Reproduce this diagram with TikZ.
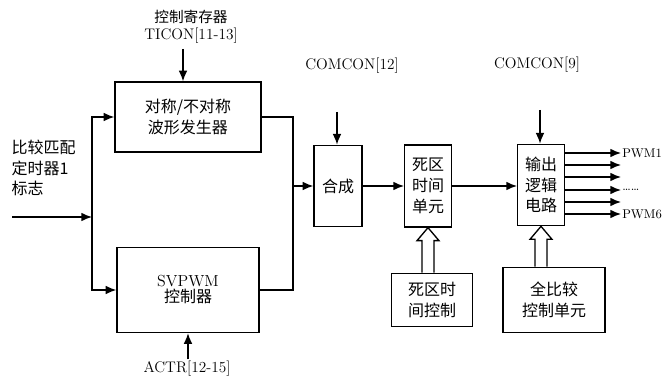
\documentclass[tikz,border=0pt]{standalone}
\usepackage{fontspec}
\newfontfamily\cjk{Noto Sans CJK SC}
\usetikzlibrary{arrows.meta, calc}

% hollow (double line) arrow pointing up from #1 to #2
\newcommand{\fatarrow}[2]{%
  \draw[fill=white] ($(#1)+(-6,0)$) -- ($(#2)+(-6,13)$) -- ($(#2)+(-11,13)$) -- (#2)
    -- ($(#2)+(11,13)$) -- ($(#2)+(6,13)$) -- ($(#1)+(6,0)$);}

\tikzset{
  blk/.style={draw, line width=1pt, align=center, inner sep=1pt},
  cn/.style={font=\cjk\fontsize{12}{15.5}\selectfont},
  lbl/.style={font=\fontsize{11.5}{13}\selectfont, align=center, inner sep=1pt},
  pwm/.style={font=\fontsize{9.5}{11}\selectfont, anchor=west, inner sep=0.5pt},
  arr/.style={line width=1pt, -{Latex[length=8pt,width=6.5pt]}},
  wire/.style={line width=1pt}
}

\begin{document}
\begin{tikzpicture}[x=0.75pt, y=-0.75pt, line width=1pt]

  \useasboundingbox (0,0) rectangle (669,385);

  % Blocks
  \node[blk, cn, minimum width=109.5pt, minimum height=52.5pt] (wave) at (188,117) {对称/不对称\\波形发生器};
  \node[blk, minimum width=106.5pt, minimum height=63.75pt] (svpwm) at (188,290) {\rmfamily\fontsize{12}{15.5}\selectfont SVPWM\\{\cjk\fontsize{12}{15.5}\selectfont 控制器}};
  \node[blk, cn, minimum width=36pt, minimum height=61pt] (synth) at (338,186) {合成};
  \node[blk, cn, minimum width=35pt, minimum height=61.5pt] (dead) at (428,186) {死区\\时间\\单元};
  \node[blk, cn, minimum width=35pt, minimum height=61pt] (outlogic) at (541,185) {输出\\逻辑\\电路};
  \node[blk, cn, minimum width=61pt, minimum height=40pt] (deadctl) at (432,300) {死区时\\间控制};
  \node[blk, cn, minimum width=76.5pt, minimum height=49pt] (cmpctl) at (554,300) {全比较\\控制单元};

  % Labels
  \node[lbl] (tconlbl) at (191,27) {{\cjk\fontsize{11}{14}\selectfont 控制寄存器}\\TICON[11-13]};
  \node[lbl] (actrlbl) at (187,369) {ACTR[12-15]};
  \node[lbl] (com12) at (352,66) {COMCON[12]};
  \node[lbl] (com9) at (537,65) {COMCON[9]};
  \node[cn, anchor=west, align=left, inner sep=0pt] (flag) at (11,168) {比较匹配\\定时器1\\标志};

  % Input bus on the left
  \coordinate (in) at (12,217);
  \coordinate (bus) at (92,217);
  \draw[arr] (in) -- (bus);
  \draw[arr] (bus) |- (wave.west);
  \draw[arr] (bus) |- (svpwm.west);

  % Control inputs from above and below
  \draw[arr] (wave.north |- tconlbl.south) ++(-5,3) -- ($(wave.north)+(-5,0)$);
  \draw[arr] (svpwm.south |- actrlbl.north) -- (svpwm.south);
  \coordinate (c12) at (337,112);
  \coordinate (c9) at (540,110);
  \draw[arr] (c12) -- (synth.north -| c12);
  \draw[arr] (c9) -- (outlogic.north -| c9);

  % Merge of both generators
  \coordinate (mrg) at (293,186);
  \draw[wire] (wave.east) -| (mrg);
  \draw[wire] (svpwm.east) -| (mrg);
  \draw[arr] (mrg) -- (synth.west);

  % Main signal path
  \draw[arr] (synth.east) -- (dead.west);
  \draw[arr] (dead.east) -- (outlogic.west |- dead.east);

  % Hollow arrows from the control units
  \fatarrow{dead.south |- deadctl.north}{dead.south};
  \fatarrow{outlogic.south |- cmpctl.north}{outlogic.south};

  % PWM outputs
  \foreach \i/\y in {1/153, 2/165, 3/177, 4/190, 5/202, 6/214} {
    \coordinate (o\i) at (621,\y);
    \draw[arr] (outlogic.east |- o\i) -- (o\i);
  }
  \node[pwm] (pwma) at (o1) {PWM1};
  \node[pwm] (dots) at (o4) {\dots\dots};
  \node[pwm] (pwmf) at (o6) {PWM6};

\end{tikzpicture}
\end{document}
